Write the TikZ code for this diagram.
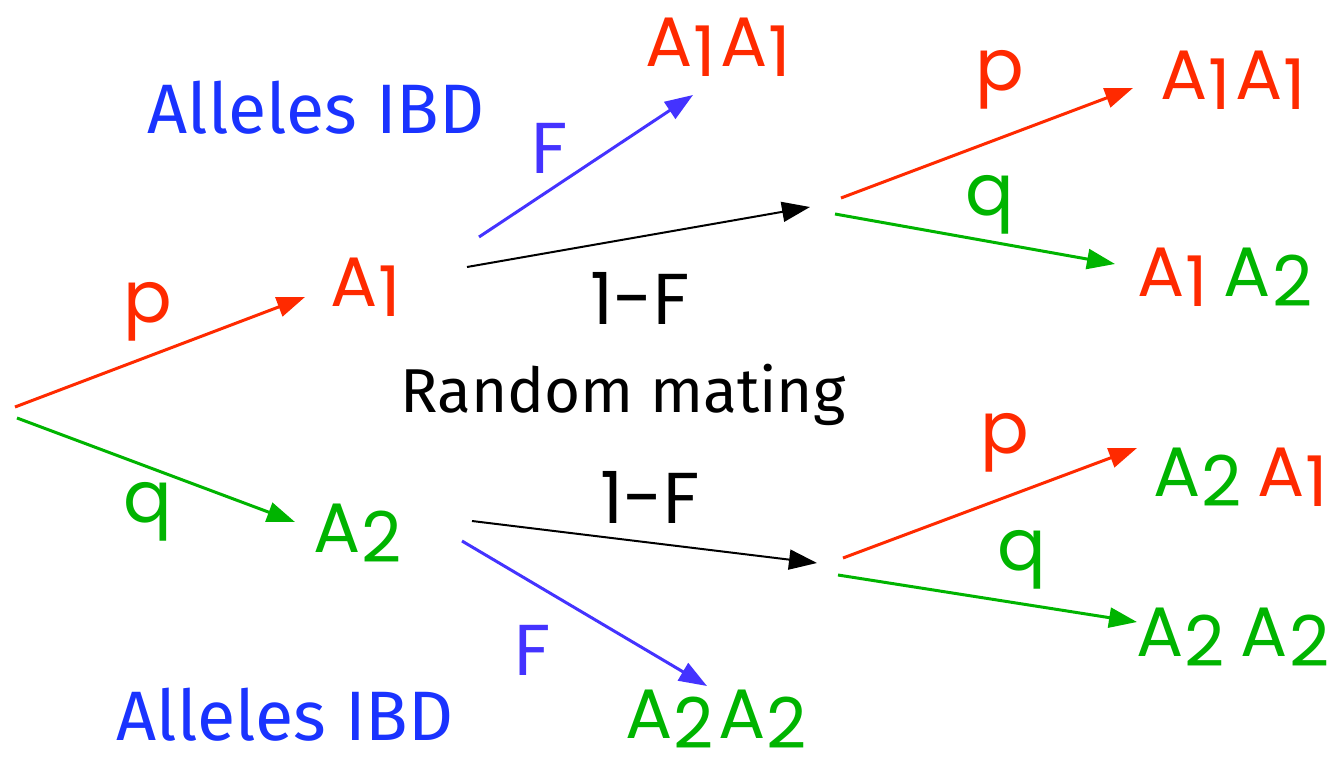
\documentclass[tikz,border=0pt]{standalone}
\usepackage{fontspec}
\setmainfont{Poppins}
\newfontfamily\labelfont{Fira Sans}
\usetikzlibrary{arrows.meta}
\definecolor{cred}{RGB}{255,42,0}
\definecolor{cgreen}{RGB}{0,180,0}
\definecolor{cviolet}{RGB}{68,51,255}
\definecolor{cblue}{RGB}{26,51,255}
\newcommand\lowd[1]{\kern0.5pt\raisebox{-5pt}{#1}\kern2pt}
\tikzset{
  geno/.style={inner sep=0pt, font=\fontsize{35}{40}\selectfont},
  prob/.style={inner sep=0pt, font=\fontsize{36}{42}\selectfont},
  note/.style={inner sep=0pt, font=\labelfont\fontsize{35}{40}\selectfont},
  arr/.style={-{Triangle[length=14pt,width=10pt]}, line width=1.5pt},
}
\begin{document}
\begin{tikzpicture}[x=0.5pt,y=-0.5pt]
\useasboundingbox (0,0) rectangle (1334,760);
% coordinates
\coordinate (s1) at (15,407);
\coordinate (s2) at (17,418);
\coordinate (e1) at (305,297);
\coordinate (e2) at (295,522);
\coordinate (a1f) at (479,237);
\coordinate (a1fe) at (693,95);
\coordinate (a1r) at (467,267);
\coordinate (a1re) at (810,207);
\coordinate (u1) at (841,198);
\coordinate (u1e) at (1133,88);
\coordinate (u2) at (835,214);
\coordinate (u2e) at (1115,264);
\coordinate (a2r) at (472,521);
\coordinate (a2re) at (817,563);
\coordinate (a2f) at (462,541);
\coordinate (a2fe) at (707,686);
\coordinate (l1) at (843,558);
\coordinate (l1e) at (1137,448);
\coordinate (l2) at (838,575);
\coordinate (l2e) at (1137,622);
% texts
\node[geno, text=cred] (A1) at (368,287) {A\lowd{1}};
\node[geno, text=cgreen] (A2) at (360,533) {A\lowd{2}};
\node[geno, text=cred] (A1A1t) at (720,47) {A\lowd{1}A\lowd{1}};
\node[geno, text=cgreen] (A2A2b) at (718,719) {A\lowd{2}A\lowd{2}};
\node[geno, text=cred] (A1A1r) at (1235,80) {A\lowd{1}A\lowd{1}};
\node[geno] (A1A2r) at (1227,277) {\textcolor{cred}{A\lowd{1}}\,\textcolor{cgreen}{A\lowd{2}}};
\node[geno] (A2A1r) at (1243,477) {\textcolor{cgreen}{A\lowd{2}}\,\textcolor{cred}{A\lowd{1}}};
\node[geno, text=cgreen] (A2A2r) at (1235,637) {A\lowd{2}\,A\lowd{2}};
\node[prob, text=cred] (p1) at (148,312) {p};
\node[prob, text=cgreen] (q1) at (148,512) {q};
\node[prob, text=cviolet] (F1) at (550,148) {F};
\node[prob, text=cviolet] (F2) at (533,650) {F};
\node[prob] (mF1) at (640,298) {1-F};
\node[prob] (mF2) at (650,497) {1-F};
\node[prob, text=cred] (p2) at (1000,80) {p};
\node[prob, text=cgreen] (q2) at (990,205) {q};
\node[prob, text=cred] (p3) at (1005,443) {p};
\node[prob, text=cgreen] (q3) at (1022,560) {q};
\node[note, text=cblue] (ibd1) at (316,108) {Alleles IBD};
\node[note, text=cblue] (ibd2) at (285,715) {Alleles IBD};
\node[note, font=\labelfont\fontsize{31}{36}\selectfont] (rm) at (623,395) {Random mating};
% arrows
\draw[arr, cred] (s1) -- (e1);
\draw[arr, cgreen] (s2) -- (e2);
\draw[arr, cviolet] (a1f) -- (a1fe);
\draw[arr, black, line width=1pt] (a1r) -- (a1re);
\draw[arr, cred] (u1) -- (u1e);
\draw[arr, cgreen] (u2) -- (u2e);
\draw[arr, black, line width=1pt] (a2r) -- (a2re);
\draw[arr, cviolet] (a2f) -- (a2fe);
\draw[arr, cred] (l1) -- (l1e);
\draw[arr, cgreen] (l2) -- (l2e);
\end{tikzpicture}
\end{document}
